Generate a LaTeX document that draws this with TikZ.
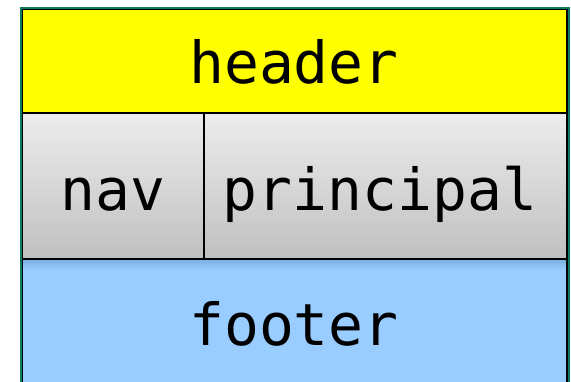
\documentclass[tikz,border=0pt]{standalone}
\usepackage{fontspec}
\setmonofont{DejaVu Sans Mono}
\begin{document}
\begin{tikzpicture}[x=1pt,y=-1pt,
  lbl/.style={font=\ttfamily\fontsize{58}{58}\selectfont, anchor=base, inner sep=0pt, text=black},
  part/.style={draw=black, line width=1.4pt}]
\definecolor{teal1}{HTML}{0E7A62}
\definecolor{hdr}{HTML}{FFFF00}
\definecolor{ftr}{HTML}{99CCFF}
\definecolor{ftrsh}{HTML}{7AAEE0}
\definecolor{gtop}{HTML}{EDEDED}
\definecolor{gbot}{HTML}{C0C0C0}
\useasboundingbox (0,0) rectangle (571,381);
% footer
\path[fill=ftr] (22,259) rectangle (567,395);
\shade[top color=ftrsh, bottom color=ftr] (22,259) rectangle (567,270);
\draw[part] (22,259) rectangle (567,395);
% body
\shade[top color=gtop, bottom color=gbot] (22,113) rectangle (567,259);
\draw[part] (22,113) rectangle (567,259);
\draw[part] (204,113) -- (204,259);
% header
\path[fill=hdr] (22,9) rectangle (567,113);
\draw[part] (22,9) rectangle (567,113);
% outer frame
\draw[teal1, line width=2pt] (20.5,7.5) rectangle (568.5,400);
% labels
\node[lbl] (header) at (294,83) {header};
\node[lbl] (nav) at (113,210) {nav};
\node[lbl] (principal) at (380,210) {principal};
\node[lbl] (footer) at (294,345) {footer};
\end{tikzpicture}
\end{document}
